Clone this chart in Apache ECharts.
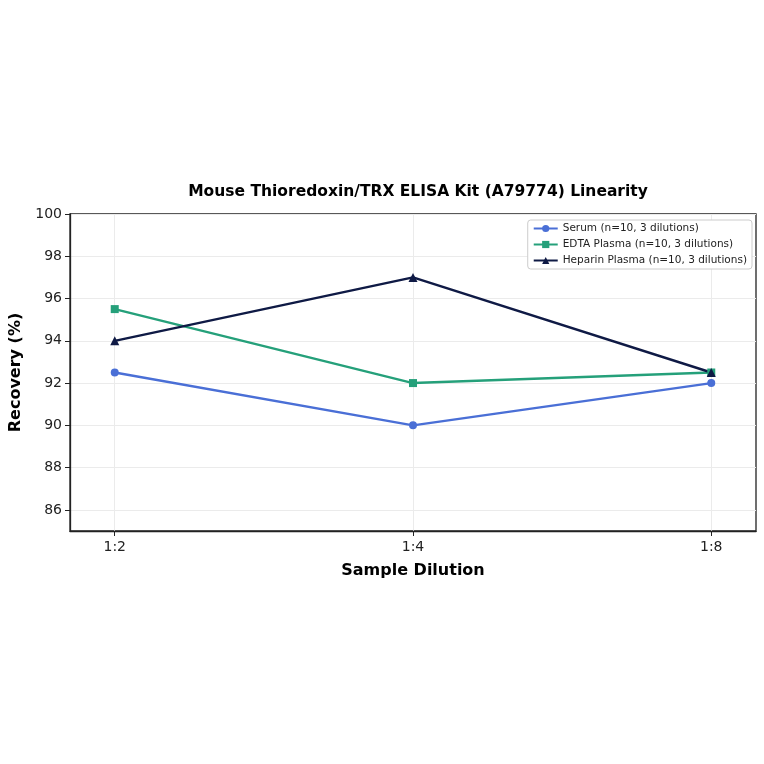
<!DOCTYPE html>
<html>
<head>
<meta http-equiv="Content-Type" content="text/html; charset=utf-8" />
<title>linearity</title>
<script type="text/javascript" src="https://cdn.jsdelivr.net/npm/echarts@6/dist/echarts.min.js"></script>
<style>html,body{margin:0;padding:0;background:#fff;}</style>
</head>
<body>
<div id="chart" style="width:764px;height:764px;"></div>
<script type="text/javascript">
var dilutions = ['1:2', '1:4', '1:8'];
var serum = [92.5, 90.0, 92.0];
var edta = [95.5, 92.0, 92.5];
var heparin = [94.0, 97.0, 92.5];
var yTicks = [86, 88, 90, 92, 94, 96, 98, 100];

function pts(vals) {
    return vals.map(function (v, i) { return [i, v]; });
}

var font = 'DejaVu Sans';
var chart = echarts.init(document.getElementById('chart'));

function line(name, vals, color, symbol, size) {
    return {
        name: name,
        type: 'line',
        data: pts(vals),
        symbol: symbol,
        symbolSize: size,
        lineStyle: { color: color, width: 2.4 },
        itemStyle: { color: color },
        z: 3
    };
}

var option = {
    animation: false,
    textStyle: { fontFamily: font },
    title: {
        text: 'Mouse Thioredoxin/TRX ELISA Kit (A79774) Linearity',
        left: 413,
        textAlign: 'center',
        top: 179,
        textStyle: { fontFamily: font, fontSize: 15.5, fontWeight: 'bold', color: '#000' }
    },
    legend: {
        orient: 'vertical',
        right: 12,
        top: 220,
        itemWidth: 24,
        itemHeight: 9,
        itemGap: 5,
        padding: [3, 5, 3, 5],
        backgroundColor: '#fff',
        borderColor: '#ccc',
        borderWidth: 1,
        borderRadius: 3,
        textStyle: { fontFamily: font, fontSize: 10.5, color: '#222' },
        data: ['Serum (n=10, 3 dilutions)', 'EDTA Plasma (n=10, 3 dilutions)', 'Heparin Plasma (n=10, 3 dilutions)']
    },
    grid: {
        left: 70, right: 8, top: 214, bottom: 233,
        show: true, borderColor: '#222', borderWidth: 1.3, backgroundColor: '#fff'
    },
    xAxis: {
        type: 'value',
        min: -0.15,
        max: 2.15,
        name: 'Sample Dilution',
        nameLocation: 'middle',
        nameGap: 32,
        nameTextStyle: { fontFamily: font, fontSize: 16, fontWeight: 'bold', color: '#000' },
        axisLine: { show: true, onZero: false, lineStyle: { color: '#222', width: 1.3 } },
        axisTick: { show: true, customValues: [0, 1, 2], length: 5, lineStyle: { color: '#222' } },
        axisLabel: {
            customValues: [0, 1, 2],
            fontFamily: font, fontSize: 14, color: '#222', margin: 9,
            formatter: function (v) { return '{a|' + dilutions[Math.round(v)] + '}'; },
            rich: { a: { fontFamily: font, fontSize: 14, color: '#222' } }
        },
        splitLine: { show: true, lineStyle: { color: '#ebebeb', width: 1 } }
    },
    yAxis: {
        type: 'value',
        min: 85,
        max: 100,
        name: 'Recovery (%)',
        nameLocation: 'middle',
        nameGap: 46,
        nameTextStyle: { fontFamily: font, fontSize: 16, fontWeight: 'bold', color: '#000' },
        axisLine: { show: true, onZero: false, lineStyle: { color: '#222', width: 1.3 } },
        axisTick: { show: true, customValues: yTicks, length: 5, lineStyle: { color: '#222' } },
        axisLabel: { customValues: yTicks, fontFamily: font, fontSize: 14, color: '#222', margin: 8 },
        splitLine: { show: true, lineStyle: { color: '#ebebeb', width: 1 } }
    },
    series: [
        line('Serum (n=10, 3 dilutions)', serum, '#4a6fd6', 'circle', 8),
        line('EDTA Plasma (n=10, 3 dilutions)', edta, '#25a07a', 'rect', 8),
        line('Heparin Plasma (n=10, 3 dilutions)', heparin, '#0f1a45', 'triangle', 9)
    ]
};
chart.setOption(option);
</script>
</body>
</html>
